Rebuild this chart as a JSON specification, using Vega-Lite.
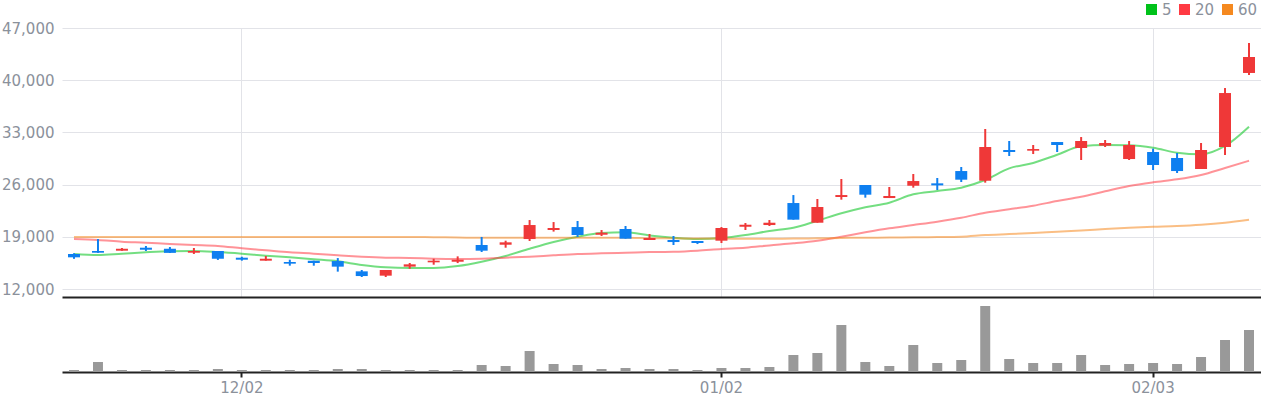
{
  "$schema": "https://vega.github.io/schema/vega-lite/v6.json",
  "padding": {"left": 0, "top": 2, "right": 0, "bottom": 0},
  "spacing": 0,
  "config": {"view": {"stroke": null}, "font": "DejaVu Sans", "numberFormat": ","},
  "data": {"values": [
    {"d":"11/21","open":16700,"high":16800,"low":16050,"close":16250,"vol":200000,"ma5":16690,"ma20":18710,"ma60":18990},
    {"d":"11/22","open":17100,"high":18700,"low":16850,"close":16870,"vol":1000000,"ma5":16560,"ma20":18570,"ma60":18990},
    {"d":"11/25","open":17140,"high":17500,"low":17130,"close":17400,"vol":200000,"ma5":16740,"ma20":18350,"ma60":18990},
    {"d":"11/26","open":17540,"high":17770,"low":17100,"close":17270,"vol":200000,"ma5":16920,"ma20":18210,"ma60":18990},
    {"d":"11/27","open":17400,"high":17630,"low":16830,"close":16850,"vol":200000,"ma5":17060,"ma20":18030,"ma60":18990},
    {"d":"11/28","open":16870,"high":17500,"low":16700,"close":17100,"vol":200000,"ma5":17100,"ma20":17900,"ma60":18990},
    {"d":"11/29","open":17100,"high":17100,"low":15900,"close":16060,"vol":300000,"ma5":16960,"ma20":17770,"ma60":18990},
    {"d":"12/02","open":16200,"high":16330,"low":15800,"close":15930,"vol":200000,"ma5":16740,"ma20":17460,"ma60":18990},
    {"d":"12/03","open":15800,"high":16430,"low":15800,"close":16060,"vol":200000,"ma5":16470,"ma20":17190,"ma60":18990},
    {"d":"12/04","open":15620,"high":15930,"low":15130,"close":15400,"vol":200000,"ma5":16250,"ma20":16920,"ma60":18990},
    {"d":"12/05","open":15790,"high":15800,"low":15130,"close":15480,"vol":200000,"ma5":15990,"ma20":16740,"ma60":18990},
    {"d":"12/06","open":15750,"high":16150,"low":14330,"close":15000,"vol":300000,"ma5":15720,"ma20":16520,"ma60":18990},
    {"d":"12/09","open":14370,"high":14550,"low":13610,"close":13740,"vol":300000,"ma5":15220,"ma20":16330,"ma60":18990},
    {"d":"12/10","open":13790,"high":14550,"low":13610,"close":14550,"vol":200000,"ma5":14910,"ma20":16200,"ma60":18990},
    {"d":"12/11","open":15000,"high":15490,"low":14720,"close":15310,"vol":200000,"ma5":14820,"ma20":16160,"ma60":18980},
    {"d":"12/12","open":15580,"high":16060,"low":15260,"close":15800,"vol":200000,"ma5":14820,"ma20":16060,"ma60":18950},
    {"d":"12/13","open":15660,"high":16380,"low":15480,"close":15930,"vol":200000,"ma5":15080,"ma20":16020,"ma60":18900},
    {"d":"12/16","open":17900,"high":18980,"low":16960,"close":17140,"vol":700000,"ma5":15660,"ma20":16060,"ma60":18880},
    {"d":"12/17","open":17940,"high":18480,"low":17540,"close":18260,"vol":600000,"ma5":16430,"ma20":16200,"ma60":18880},
    {"d":"12/18","open":18700,"high":21250,"low":18440,"close":20580,"vol":2100000,"ma5":17400,"ma20":16330,"ma60":18880},
    {"d":"12/19","open":19910,"high":20980,"low":19700,"close":20180,"vol":800000,"ma5":18300,"ma20":16520,"ma60":18880},
    {"d":"12/20","open":20310,"high":21120,"low":18980,"close":19240,"vol":700000,"ma5":19010,"ma20":16690,"ma60":18880},
    {"d":"12/23","open":19280,"high":19910,"low":19110,"close":19550,"vol":300000,"ma5":19510,"ma20":16790,"ma60":18880},
    {"d":"12/24","open":20050,"high":20450,"low":18750,"close":18750,"vol":400000,"ma5":19600,"ma20":16870,"ma60":18880},
    {"d":"12/26","open":18570,"high":19380,"low":18570,"close":18840,"vol":300000,"ma5":19190,"ma20":16960,"ma60":18820},
    {"d":"12/27","open":18570,"high":19110,"low":17900,"close":18300,"vol":300000,"ma5":18880,"ma20":17000,"ma60":18800},
    {"d":"12/30","open":18440,"high":18440,"low":18030,"close":18170,"vol":200000,"ma5":18700,"ma20":17140,"ma60":18780},
    {"d":"01/02","open":18480,"high":20310,"low":18170,"close":20180,"vol":400000,"ma5":18840,"ma20":17370,"ma60":18760},
    {"d":"01/03","open":20350,"high":20850,"low":19910,"close":20620,"vol":400000,"ma5":19240,"ma20":17540,"ma60":18750},
    {"d":"01/06","open":20580,"high":21250,"low":20450,"close":20890,"vol":500000,"ma5":19780,"ma20":17850,"ma60":18750},
    {"d":"01/07","open":23530,"high":24600,"low":21300,"close":21300,"vol":1700000,"ma5":20220,"ma20":18130,"ma60":18760},
    {"d":"01/08","open":20890,"high":24070,"low":20890,"close":23000,"vol":1900000,"ma5":21160,"ma20":18480,"ma60":18800},
    {"d":"01/09","open":24340,"high":26750,"low":23980,"close":24600,"vol":4700000,"ma5":22150,"ma20":19010,"ma60":18850},
    {"d":"01/10","open":25950,"high":25950,"low":24250,"close":24650,"vol":1000000,"ma5":22960,"ma20":19600,"ma60":18880},
    {"d":"01/13","open":24200,"high":25680,"low":24200,"close":24470,"vol":600000,"ma5":23580,"ma20":20140,"ma60":18900},
    {"d":"01/14","open":25850,"high":27420,"low":25590,"close":26480,"vol":2700000,"ma5":24700,"ma20":20580,"ma60":18930},
    {"d":"01/15","open":26170,"high":26890,"low":25280,"close":25900,"vol":900000,"ma5":25140,"ma20":21030,"ma60":18960},
    {"d":"01/16","open":27820,"high":28360,"low":26350,"close":26660,"vol":1200000,"ma5":25590,"ma20":21560,"ma60":19010},
    {"d":"01/17","open":26520,"high":33460,"low":26260,"close":31040,"vol":6600000,"ma5":26620,"ma20":22230,"ma60":19240},
    {"d":"01/20","open":30640,"high":31850,"low":29840,"close":30370,"vol":1300000,"ma5":28180,"ma20":22690,"ma60":19370},
    {"d":"01/21","open":30550,"high":31310,"low":30100,"close":30770,"vol":900000,"ma5":28900,"ma20":23170,"ma60":19510},
    {"d":"01/22","open":31710,"high":31710,"low":30370,"close":31310,"vol":900000,"ma5":30010,"ma20":23800,"ma60":19680},
    {"d":"01/23","open":30910,"high":32380,"low":29300,"close":31850,"vol":1700000,"ma5":31130,"ma20":24360,"ma60":19840},
    {"d":"01/24","open":31220,"high":31980,"low":31040,"close":31580,"vol":700000,"ma5":31310,"ma20":25100,"ma60":20040},
    {"d":"01/31","open":29430,"high":31850,"low":29300,"close":31310,"vol":800000,"ma5":31270,"ma20":25810,"ma60":20220},
    {"d":"02/03","open":30370,"high":30820,"low":27960,"close":28630,"vol":900000,"ma5":30950,"ma20":26310,"ma60":20350},
    {"d":"02/04","open":29570,"high":30240,"low":27560,"close":27820,"vol":800000,"ma5":30280,"ma20":26710,"ma60":20450},
    {"d":"02/05","open":28090,"high":31580,"low":28090,"close":30640,"vol":1500000,"ma5":30060,"ma20":27290,"ma60":20620},
    {"d":"02/06","open":31040,"high":38950,"low":29970,"close":38280,"vol":3200000,"ma5":31180,"ma20":28230,"ma60":20890},
    {"d":"02/07","open":40970,"high":44990,"low":40700,"close":43110,"vol":4200000,"ma5":33770,"ma20":29200,"ma60":21290}
  ]},
  "vconcat": [
    {
      "width": 1199,
      "height": 269,
      "encoding": {
        "x": {
          "field": "d", "type": "ordinal", "sort": null,
          "scale": {"paddingInner": 0, "paddingOuter": 0},
          "axis": {
            "values": ["12/02", "01/02", "02/03"], "bandPosition": 0.5,
            "labels": false, "ticks": false, "title": null,
            "domainColor": "#222222", "domainWidth": 2,
            "grid": true, "gridColor": "#e2e3e8", "gridWidth": 1,
            "minExtent": 0, "maxExtent": 0
          }
        }
      },
      "layer": [
        {
          "transform": [{"fold": ["ma5", "ma20", "ma60"], "as": ["ma", "value"]}],
          "mark": {"type": "line", "strokeWidth": 2, "strokeOpacity": 0.55, "interpolate": "monotone"},
          "encoding": {
            "y": {
              "field": "value", "type": "quantitative",
              "scale": {"domain": [10930, 47000], "nice": false, "zero": false},
              "axis": {
                "values": [12000, 19000, 26000, 33000, 40000, 47000], "format": ",",
                "labelExpr": "format(datum.value, ',')",
                "title": null, "ticks": false, "domain": false,
                "grid": true, "gridColor": "#e2e3e8",
                "labelColor": "#8b919b", "labelFont": "DejaVu Sans", "labelFontSize": 15,
                "labelPadding": 8, "minExtent": 62, "maxExtent": 62
              }
            },
            "color": {
              "field": "ma", "type": "nominal",
              "scale": {"domain": ["ma5", "ma20", "ma60"], "range": ["#00c21a", "#ff3a43", "#f5891f"]},
              "legend": {
                "orient": "none", "legendX": 1082, "legendY": -26, "direction": "horizontal",
                "title": null, "symbolType": "square", "symbolSize": 25, "symbolStrokeWidth": 6,
                "symbolOpacity": 1, "labelFont": "DejaVu Sans", "labelFontSize": 15,
                "labelColor": "#8b919b", "labelOffset": 3, "columnPadding": -2,
                "labelExpr": "replace(datum.label, 'ma', '')"
              }
            }
          }
        },
        {
          "mark": {"type": "rule", "strokeWidth": 2},
          "encoding": {
            "y": {"field": "low", "type": "quantitative"},
            "y2": {"field": "high"},
            "color": {"condition": {"test": "datum.close >= datum.open", "value": "#ef3838"}, "value": "#0e7ff0"}
          }
        },
        {
          "mark": {"type": "bar", "width": 12},
          "encoding": {
            "y": {"field": "open", "type": "quantitative"},
            "y2": {"field": "close"},
            "color": {"condition": {"test": "datum.close >= datum.open", "value": "#ef3838"}, "value": "#0e7ff0"}
          }
        }
      ]
    },
    {
      "width": 1199,
      "height": 74,
      "mark": {"type": "bar", "width": 10, "color": "#999999"},
      "encoding": {
        "x": {
          "field": "d", "type": "ordinal", "sort": null,
          "scale": {"paddingInner": 0, "paddingOuter": 0},
          "axis": {
            "values": ["12/02", "01/02", "02/03"], "bandPosition": 0.5, "labelAngle": 0,
            "title": null, "grid": false,
            "domainColor": "#222222", "domainWidth": 2,
            "tickColor": "#222222", "tickWidth": 2, "tickSize": 5,
            "labelColor": "#8b919b", "labelFont": "DejaVu Sans", "labelFontSize": 15, "labelPadding": 3
          }
        },
        "y": {
          "field": "vol", "type": "quantitative",
          "scale": {"domain": [0, 7400000], "nice": false},
          "axis": {"labels": false, "ticks": false, "domain": false, "grid": false, "title": null, "minExtent": 62, "maxExtent": 62}
        }
      }
    }
  ]
}
